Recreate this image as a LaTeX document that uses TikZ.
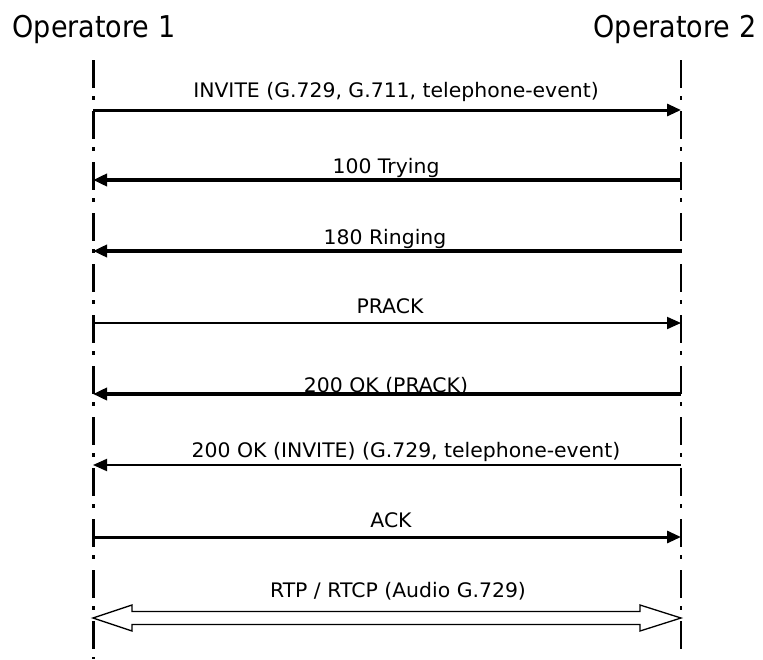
\documentclass[tikz,border=0pt]{standalone}
\usepackage{fontspec}
\usepackage{graphicx}
\setmainfont{DejaVu Sans}
\usetikzlibrary{arrows.meta,calc}
\newcommand\tx[1]{\scalebox{1.02}[1]{#1}}
\newcommand\ta[1]{\scalebox{0.9}[1]{#1}}
\begin{document}
\begin{tikzpicture}[x=1pt,y=-1pt,
  lifeline/.style={dash pattern=on 28pt off 8pt on 4pt off 11pt},
  msg/.style={-{Triangle[length=14pt,width=12pt]}},
  lbl/.style={anchor=base,inner sep=0pt,font=\fontsize{20}{22}\selectfont},
  actor/.style={anchor=base,inner sep=0pt,font=\fontsize{30}{34}\selectfont}]
\useasboundingbox (0,0) rectangle (763,659);
% actors
\node[actor] (op1) at (94,37) {\ta{Operatore 1}};
\node[actor] (op2) at (675,37) {\ta{Operatore 2}};
% lifelines
\coordinate (l1top) at (93,60);
\coordinate (l1bot) at (93,659);
\coordinate (l2top) at (681,60);
\coordinate (l2bot) at (681,649);
\draw[lifeline,line width=3pt] (l1top) -- (l1bot);
\draw[lifeline,line width=2.2pt] (l2top) -- (l2bot);
% message end points
\foreach \i/\y in {1/110,2/180,3/251,4/323,5/394,6/465,7/537,8/618}{
  \coordinate (a\i) at (93,\y);
  \coordinate (b\i) at (681,\y);
}
% messages
\draw[msg,line width=3pt] (a1) -- (b1);
\node[lbl] (t1) at (396,97) {\tx{INVITE (G.729, G.711, telephone-event)}};
\draw[msg,line width=4pt] (b2) -- (a2);
\node[lbl] (t2) at (386,173) {\tx{100 Trying}};
\draw[msg,line width=4pt] (b3) -- (a3);
\node[lbl] (t3) at (385,244) {\tx{180 Ringing}};
\draw[msg,line width=2pt] (a4) -- (b4);
\node[lbl] (t4) at (390,313) {\tx{PRACK}};
\node[lbl] (t5) at (386,392) {\tx{200 OK (PRACK)}};
\draw[msg,line width=4pt] (b5) -- (a5);
\draw[msg,line width=2pt] (b6) -- (a6);
\node[lbl] (t6) at (406,457) {\tx{200 OK (INVITE) (G.729, telephone-event)}};
\draw[msg,line width=3pt] (a7) -- (b7);
\node[lbl] (t7) at (391,527) {\tx{ACK}};
% RTP double arrow
\draw[line width=1.3pt,line join=miter,fill=white]
  (a8) -- ++(39,-13) -- ++(0,6.5) -- ($(b8)+(-41,-6.5)$) -- ++(0,-6.5) -- (b8)
  -- ++(-41,13) -- ++(0,-6.5) -- ($(a8)+(39,6.5)$) -- ++(0,6.5) -- cycle;
\node[lbl] (t8) at (398,597) {\tx{RTP / RTCP (Audio G.729)}};
\end{tikzpicture}
\end{document}
